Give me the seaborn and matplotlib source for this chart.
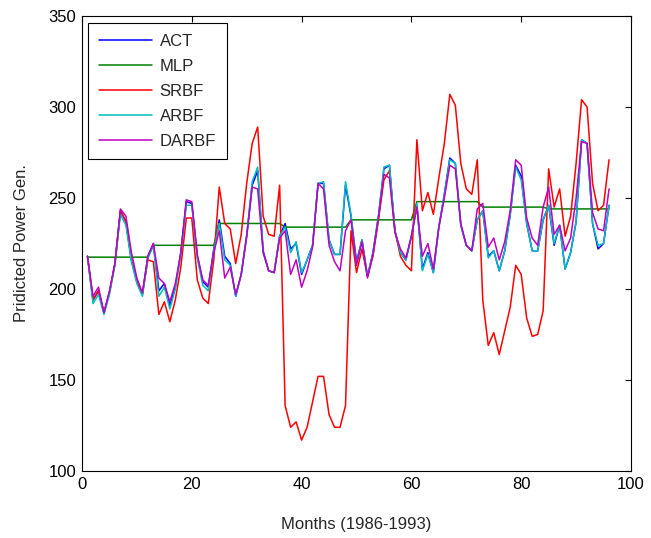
import matplotlib
matplotlib.use("Agg")
import matplotlib.pyplot as plt
import numpy as np
import pandas as pd
import seaborn as sns

months = list(range(1, 97))

ACT = [218, 194, 199, 187, 198, 214, 243, 237, 216, 204, 197, 218,
       225, 199, 203, 191, 201, 220, 248, 247, 218, 204, 201, 222,
       238, 218, 214, 196, 208, 229, 257, 265, 221, 210, 209, 229,
       236, 222, 225, 208, 216, 224, 258, 258, 227, 219, 219, 257,
       240, 215, 227, 207, 220, 240, 266, 268, 232, 220, 216, 229,
       246, 211, 220, 209, 234, 252, 272, 269, 235, 224, 221, 238,
       243, 218, 221, 210, 221, 241, 268, 262, 236, 221, 221, 238,
       246, 224, 235, 211, 220, 237, 282, 280, 236, 222, 225, 246]

MLP = [217.5, 217.5, 217.5, 217.5, 217.5, 217.5, 217.5, 217.5, 217.5, 217.5, 217.5, 217.5,
       224, 224, 224, 224, 224, 224, 224, 224, 224, 224, 224, 224,
       236, 236, 236, 236, 236, 236, 236, 236, 236, 236, 236, 236,
       234, 234, 234, 234, 234, 234, 234, 234, 234, 234, 234, 234,
       238, 238, 238, 238, 238, 238, 238, 238, 238, 238, 238, 238,
       248, 248, 248, 248, 248, 248, 248, 248, 248, 248, 248, 248,
       245, 245, 245, 245, 245, 245, 245, 245, 245, 245, 245, 245,
       244, 244, 244, 244, 244, 244, 244, 244, 244, 244, 244, 244]

SRBF = [218, 194, 199, 187, 198, 214, 243, 237, 216, 204, 197, 216,
        215, 186, 193, 182, 194, 212, 239, 239, 205, 195, 192, 216,
        256, 236, 233, 214, 230, 258, 280, 289, 240, 230, 229, 257,
        136, 124, 127, 117, 124, 138, 152, 152, 131, 124, 124, 136,
        232, 209, 222, 207, 218, 238, 260, 265, 232, 218, 213, 210,
        282, 243, 253, 241, 261, 280, 307, 301, 269, 255, 252, 271,
        194, 169, 176, 164, 177, 190, 213, 208, 184, 174, 175, 188,
        266, 245, 255, 229, 240, 269, 304, 300, 258, 243, 246, 271]

ARBF = [218, 192, 197, 186, 197, 213, 241, 235, 215, 203, 196, 217,
        224, 196, 201, 189, 200, 219, 246, 246, 217, 202, 199, 221,
        236, 216, 213, 196, 208, 230, 259, 267, 220, 210, 209, 229,
        234, 220, 226, 209, 216, 224, 258, 259, 227, 219, 219, 259,
        241, 214, 227, 207, 220, 240, 267, 268, 232, 220, 216, 229,
        247, 210, 219, 209, 234, 252, 271, 269, 235, 224, 221, 238,
        243, 217, 221, 210, 221, 241, 267, 260, 236, 221, 221, 238,
        246, 225, 235, 211, 220, 237, 282, 280, 236, 224, 225, 246]

DARBF = [218, 196, 201, 187, 199, 214, 244, 240, 220, 206, 198, 218,
         225, 206, 203, 193, 203, 220, 249, 248, 219, 205, 202, 220,
         232, 206, 212, 197, 208, 229, 256, 255, 220, 210, 209, 228,
         232, 208, 216, 201, 210, 223, 258, 255, 224, 215, 210, 232,
         238, 213, 226, 206, 219, 239, 263, 261, 231, 222, 217, 229,
         245, 218, 225, 211, 234, 250, 268, 266, 236, 224, 221, 244,
         247, 223, 228, 216, 226, 243, 271, 268, 239, 228, 224, 245,
         256, 230, 235, 221, 228, 250, 281, 280, 242, 233, 232, 255]

series_names = ["ACT", "MLP", "SRBF", "ARBF", "DARBF"]
series_values = [ACT, MLP, SRBF, ARBF, DARBF]
colors = [(0, 0, 1), (0, 0.5, 0), (1, 0, 0), (0, 0.75, 0.75), (0.75, 0, 0.75)]

x_ticks = [0, 20, 40, 60, 80, 100]
y_ticks = [100, 150, 200, 250, 300, 350]

frames = []
for name, vals in zip(series_names, series_values):
    frames.append(pd.DataFrame({"Month": months, "Value": vals, "Series": name}))
long = pd.concat(frames, ignore_index=True)

sns.set_style("white")
plt.rcParams['font.family'] = ['Liberation Sans', 'DejaVu Sans']

fig = plt.figure(figsize=(6.51, 5.38), dpi=100)
ax = fig.add_axes([82 / 651, 1 - 471 / 538, 549 / 651, 455 / 538])

sns.lineplot(data=long, x="Month", y="Value", hue="Series",
             hue_order=series_names, palette=dict(zip(series_names, colors)),
             linewidth=1.1, estimator=None, ax=ax)

ax.set_xlim(0, 100)
ax.set_ylim(100, 350)
ax.set_xticks(x_ticks)
ax.set_yticks(y_ticks)
ax.tick_params(direction="in", length=4, width=0.8, top=True, right=True,
               labelsize=12, colors="black", pad=4)
for s in ax.spines.values():
    s.set_visible(True)
    s.set_color("black")
    s.set_linewidth(0.8)

ax.set_xlabel("Months (1986-1993)", fontsize=12, labelpad=18)
ax.set_ylabel("Pridicted Power Gen.", fontsize=12, labelpad=14)

handles, labels = ax.get_legend_handles_labels()
leg = ax.legend(handles, labels, loc="upper left", bbox_to_anchor=(0.011, 0.985),
                frameon=True, fancybox=False, edgecolor="black", framealpha=1,
                fontsize=12, handlelength=3.2, handletextpad=0.45, borderpad=0.65,
                labelspacing=0.6, borderaxespad=0)
leg.get_frame().set_linewidth(0.8)

fig.savefig("out.png", dpi=100)
